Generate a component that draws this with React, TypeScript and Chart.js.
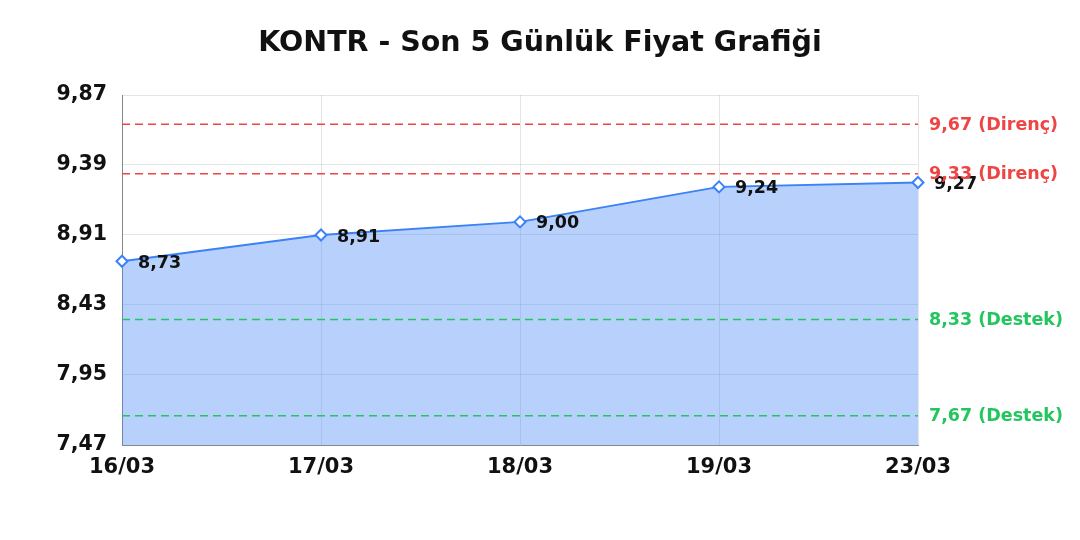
import { useEffect, useRef } from 'react';
import { Chart, registerables, ChartConfiguration, Plugin } from 'chart.js';

Chart.register(...registerables);

const labels = ['16/03', '17/03', '18/03', '19/03', '23/03'];
const prices = [8.73, 8.91, 9.0, 9.24, 9.27];
const yTicks = [7.47, 7.95, 8.43, 8.91, 9.39, 9.87];
const resistance = [9.67, 9.33];
const support = [8.33, 7.67];

const FONT = "'DejaVu Sans'";
const RED = '#ef4444';
const GREEN = '#22c55e';
const BLUE = '#3b82f6';

const fmt = (v: number) => v.toFixed(2).replace('.', ',');

// title, value labels next to the points + level captions on the right
const labelsPlugin: Plugin<'line'> = {
  id: 'valueLabels',
  afterDatasetsDraw(chart) {
    const { ctx, scales, chartArea, width } = chart;
    const x = scales.x;
    const y = scales.y;
    ctx.save();
    ctx.textBaseline = 'middle';
    ctx.textAlign = 'center';
    ctx.fillStyle = '#111111';
    ctx.font = `bold 28.5px ${FONT}`;
    ctx.fillText('KONTR - Son 5 Günlük Fiyat Grafiği', width / 2, 44);

    ctx.textAlign = 'left';
    ctx.font = `bold 17.5px ${FONT}`;
    ctx.fillStyle = '#111111';
    prices.forEach((p, i) => {
      ctx.fillText(fmt(p), x.getPixelForValue(i) + 16, y.getPixelForValue(p) + 2);
    });

    ctx.font = `bold 17.5px ${FONT}`;
    resistance.forEach((r) => {
      ctx.fillStyle = RED;
      ctx.fillText(`${fmt(r)} (Direnç)`, chartArea.right + 11, y.getPixelForValue(r) + 1);
    });
    support.forEach((s) => {
      ctx.fillStyle = GREEN;
      ctx.fillText(`${fmt(s)} (Destek)`, chartArea.right + 11, y.getPixelForValue(s) + 1);
    });
    ctx.restore();
  },
};

const levelDataset = (value: number, color: string) => ({
  label: String(value),
  data: labels.map(() => value),
  borderColor: color,
  borderWidth: 1.5,
  borderDash: [8, 5],
  pointRadius: 0,
  fill: false,
  order: 0,
});

export default function App() {
  const canvasRef = useRef<HTMLCanvasElement>(null);
  const chartRef = useRef<Chart | null>(null);

  useEffect(() => {
    document.body.style.margin = '0';
    if (!canvasRef.current) return;
    if (chartRef.current) chartRef.current.destroy();

    const config: ChartConfiguration<'line'> = {
      type: 'line',
      data: {
        labels,
        datasets: [
          {
            label: 'Fiyat',
            data: prices,
            borderColor: BLUE,
            backgroundColor: 'rgba(59, 130, 246, 0.37)',
            borderWidth: 2,
            fill: 'start',
            tension: 0,
            pointStyle: 'rectRot',
            pointRadius: 5.5,
            pointBorderWidth: 2,
            pointBackgroundColor: '#ffffff',
            pointBorderColor: BLUE,
            order: 1,
          },
          ...resistance.map((r) => levelDataset(r, RED)),
          ...support.map((s) => levelDataset(s, GREEN)),
        ],
      },
      options: {
        responsive: true,
        maintainAspectRatio: false,
        animation: false,
        layout: { padding: { left: 0, right: 162, top: 95, bottom: 0 } },
        plugins: {
          legend: { display: false },
          tooltip: { enabled: false },
          title: { display: false },
        },
        scales: {
          x: {
            offset: false,
            grid: { color: 'rgba(0,0,0,0.1)', drawTicks: false },
            border: { color: '#888888' },
            ticks: {
              color: '#111111',
              padding: 10,
              maxRotation: 0,
              font: { family: FONT, size: 21, weight: 'bold' },
            },
            afterFit(scale) {
              scale.height = 95;
            },
          },
          y: {
            min: yTicks[0],
            max: yTicks[yTicks.length - 1],
            grid: { color: 'rgba(0,0,0,0.1)', drawTicks: false },
            border: { color: '#888888' },
            afterBuildTicks(scale) {
              scale.ticks = yTicks.map((v) => ({ value: v }));
            },
            afterFit(scale) {
              scale.width = 122;
            },
            ticks: {
              color: '#111111',
              padding: 15,
              font: { family: FONT, size: 20.5, weight: 'bold' },
              callback: (v) => fmt(Number(v)),
            },
          },
        },
      },
      plugins: [labelsPlugin],
    };

    chartRef.current = new Chart(canvasRef.current, config);
    return () => {
      chartRef.current?.destroy();
      chartRef.current = null;
    };
  }, []);

  return (
    <div style={{ position: 'relative', width: 1080, height: 540 }}>
      <canvas ref={canvasRef} />
    </div>
  );
}
